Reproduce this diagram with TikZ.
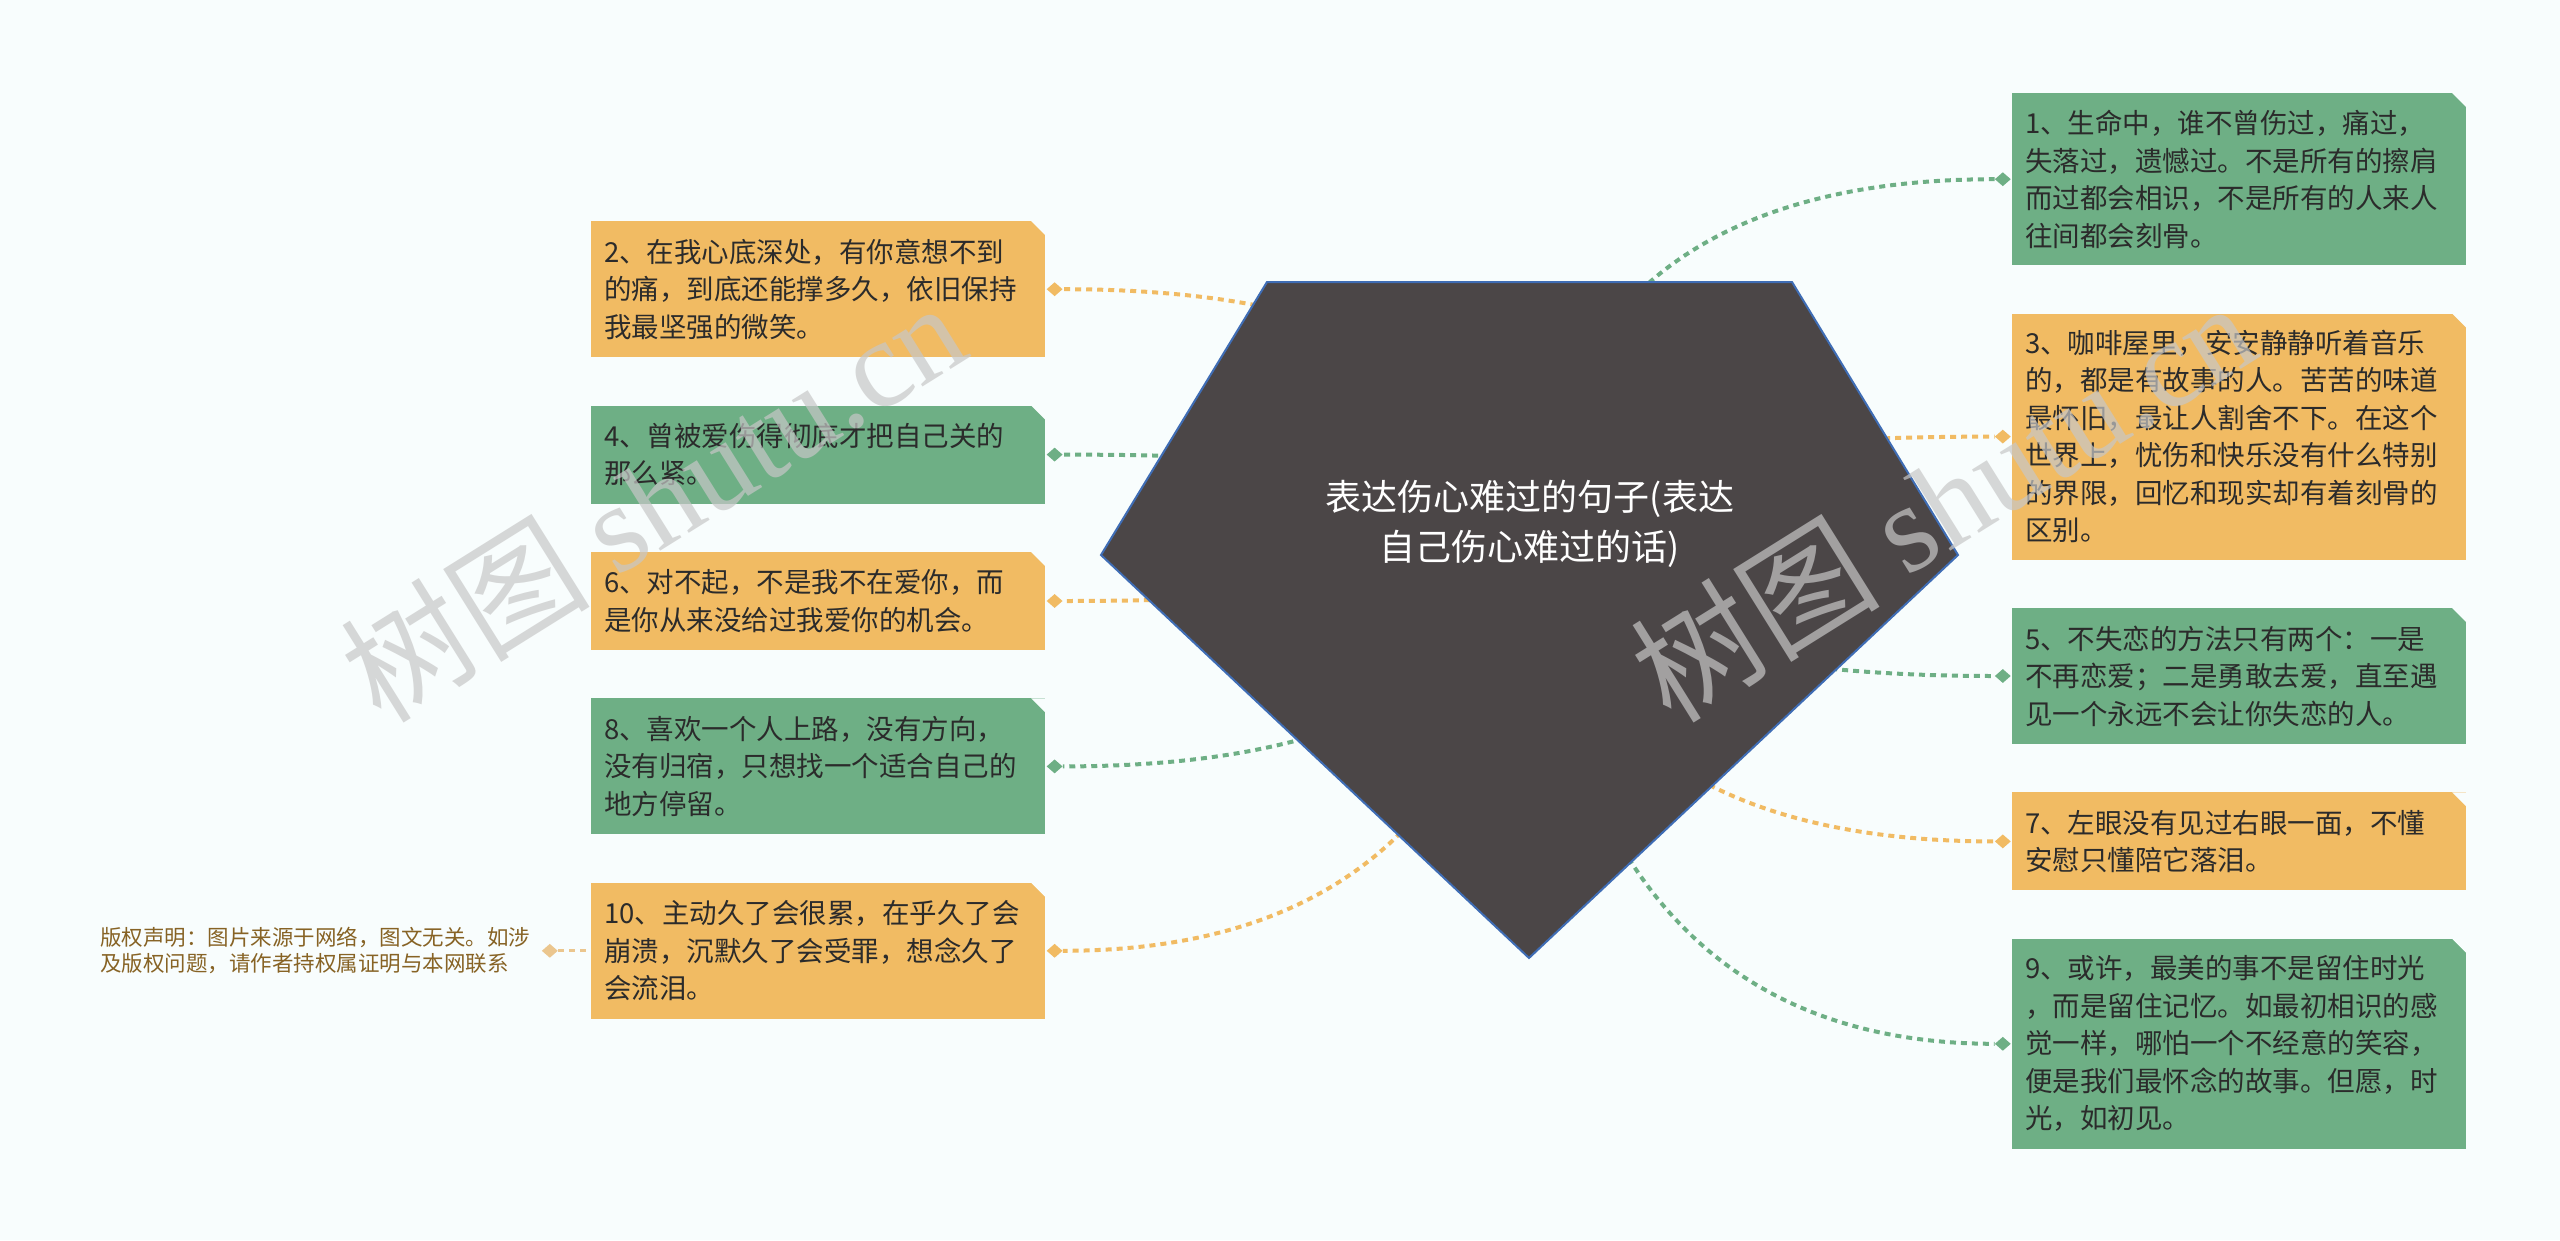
\documentclass[tikz,border=0pt]{standalone}
\usepackage{fontspec}
\setmainfont{Noto Sans CJK SC}
\newfontfamily\wmserif{Liberation Serif}
\usetikzlibrary{shapes.geometric, positioning, calc}

\definecolor{paper}{HTML}{F8FDFD}
\definecolor{cardorg}{HTML}{F1BB63}
\definecolor{cardgrn}{HTML}{6EAF85}
\definecolor{ink}{HTML}{2B2B2B}
\definecolor{rootfill}{HTML}{4B4647}
\definecolor{rootedge}{HTML}{3F6DB5}
\definecolor{notebrown}{HTML}{876325}
\definecolor{notelink}{HTML}{EBC68E}

\begin{document}
\begin{tikzpicture}[x=1pt,y=-1pt,
  card/.style={rectangle, text width=428pt, inner xsep=13pt, inner ysep=0pt,
    align=left, text=ink, font=\fontsize{27.5}{37.5}\selectfont,
    path picture={\fill[paper] ([xshift=-14pt]path picture bounding box.north east)
      -- (path picture bounding box.north east)
      -- ([yshift=-14pt]path picture bounding box.north east) -- cycle;}},
  knob/.style={diamond, inner sep=0pt, minimum width=16pt, minimum height=14pt},
  link/.style={line width=4pt, dash pattern=on 6pt off 5pt},
  wmtext/.style={text=black!22, opacity=0.7, rotate=32,
    font=\fontsize{125}{125}\selectfont}]
\useasboundingbox (0,0) rectangle (2560,1240);
\fill[paper] (0,0) rectangle (2560,1240);

\node[card, fill=cardorg, anchor=north west, minimum height=136pt] (b2) at (591,221) {2、在我心底深处，有你意想不到\\的痛，到底还能撑多久，依旧保持\\我最坚强的微笑。};
\node[card, fill=cardgrn, minimum height=98pt, below=48pt of b2] (b4) {4、曾被爱伤得彻底才把自己关的\\那么紧。};
\node[card, fill=cardorg, minimum height=98pt, below=48pt of b4] (b6) {6、对不起，不是我不在爱你，而\\是你从来没给过我爱你的机会。};
\node[card, fill=cardgrn, minimum height=136pt, below=48pt of b6] (b8) {8、喜欢一个人上路，没有方向，\\没有归宿，只想找一个适合自己的\\地方停留。};
\node[card, fill=cardorg, minimum height=136pt, below=48pt of b8] (b10) {10、主动久了会很累，在乎久了会\\崩溃，沉默久了会受罪，想念久了\\会流泪。};

\node[card, fill=cardgrn, anchor=north west, minimum height=172pt] (b1) at (2012,93) {1、生命中，谁不曾伤过，痛过，\\失落过，遗憾过。不是所有的擦肩\\而过都会相识，不是所有的人来人\\往间都会刻骨。};
\node[card, fill=cardorg, minimum height=246pt, below=48pt of b1] (b3) {3、咖啡屋里，安安静静听着音乐\\的，都是有故事的人。苦苦的味道\\最怀旧，最让人割舍不下。在这个\\世界上，忧伤和快乐没有什么特别\\的界限，回忆和现实却有着刻骨的\\区别。};
\node[card, fill=cardgrn, minimum height=136pt, below=48pt of b3] (b5) {5、不失恋的方法只有两个：一是\\不再恋爱；二是勇敢去爱，直至遇\\见一个永远不会让你失恋的人。};
\node[card, fill=cardorg, minimum height=98pt, below=48pt of b5] (b7) {7、左眼没有见过右眼一面，不懂\\安慰只懂陪它落泪。};
\node[card, fill=cardgrn, minimum height=210pt, below=48pt of b7] (b9) {9、或许，最美的事不是留住时光\\，而是留住记忆。如最初相识的感\\觉一样，哪怕一个不经意的笑容，\\便是我们最怀念的故事。但愿，时\\光，如初见。};

\node[knob, fill=cardorg, right=1pt of b2] (k2) {};
\node[knob, fill=cardgrn, right=1pt of b4] (k4) {};
\node[knob, fill=cardorg, right=1pt of b6] (k6) {};
\node[knob, fill=cardgrn, right=1pt of b8] (k8) {};
\node[knob, fill=cardorg, right=1pt of b10] (k10) {};
\node[knob, fill=cardgrn, left=1pt of b1] (k1) {};
\node[knob, fill=cardorg, left=1pt of b3] (k3) {};
\node[knob, fill=cardgrn, left=1pt of b5] (k5) {};
\node[knob, fill=cardorg, left=1pt of b7] (k7) {};
\node[knob, fill=cardgrn, left=1pt of b9] (k9) {};

\node[knob, fill=notelink, left=33pt of b10] (kn) {};
\node[inner sep=0pt, align=left, text=notebrown, font=\fontsize{21.5}{26}\selectfont, left=11pt of kn] (note) {版权声明：图片来源于网络，图文无关。如涉\\及版权问题，请作者持权属证明与本网联系};
\draw[link, notelink, line width=3pt] (kn) -- (b10);

\coordinate (hub) at (1530,524);
\coordinate (lefthub) at (1483,524);
\coordinate (righthub) at (1577,524);
\draw[link, cardorg] (hub) .. controls ($(hub)!.667!(lefthub |- k2)$) and ($(k2)!.667!(lefthub |- k2)$) .. (k2);
\draw[link, cardgrn] (hub) .. controls ($(hub)!.667!(lefthub |- k4)$) and ($(k4)!.667!(lefthub |- k4)$) .. (k4);
\draw[link, cardorg] (hub) .. controls ($(hub)!.667!(lefthub |- k6)$) and ($(k6)!.667!(lefthub |- k6)$) .. (k6);
\draw[link, cardgrn] (hub) .. controls ($(hub)!.667!(lefthub |- k8)$) and ($(k8)!.667!(lefthub |- k8)$) .. (k8);
\draw[link, cardorg] (hub) .. controls ($(hub)!.667!(lefthub |- k10)$) and ($(k10)!.667!(lefthub |- k10)$) .. (k10);
\draw[link, cardgrn] (hub) .. controls ($(hub)!.667!(righthub |- k1)$) and ($(k1)!.667!(righthub |- k1)$) .. (k1);
\draw[link, cardorg] (hub) .. controls ($(hub)!.667!(righthub |- k3)$) and ($(k3)!.667!(righthub |- k3)$) .. (k3);
\draw[link, cardgrn] (hub) .. controls ($(hub)!.667!(righthub |- k5)$) and ($(k5)!.667!(righthub |- k5)$) .. (k5);
\draw[link, cardorg] (hub) .. controls ($(hub)!.667!(righthub |- k7)$) and ($(k7)!.667!(righthub |- k7)$) .. (k7);
\draw[link, cardgrn] (hub) .. controls ($(hub)!.667!(righthub |- k9)$) and ($(k9)!.667!(righthub |- k9)$) .. (k9);

\filldraw[fill=rootfill, draw=rootedge, line width=2pt] (1267,282) -- (1792,282) -- (1958,555) -- (1529,958) -- (1101,555) -- cycle;
\node[text=white, align=center, font=\fontsize{36}{50}\selectfont] (root) at (hub) {表达伤心难过的句子(表达\\自己伤心难过的话)};

\node[wmtext] (wm1) at (652,500) {树图 {\wmserif shutu.cn}};
\node[wmtext] (wm2) at (1942,500) {树图 {\wmserif shutu.cn}};
\end{tikzpicture}
\end{document}
